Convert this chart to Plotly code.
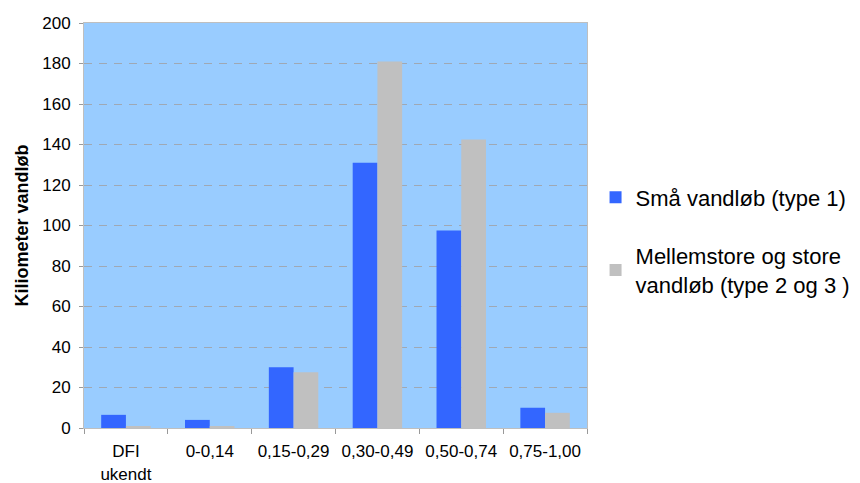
import plotly.graph_objects as go

categories = ["DFI<br>ukendt", "0-0,14", "0,15-0,29", "0,30-0,49", "0,50-0,74", "0,75-1,00"]
small_streams = [6.5, 4, 30, 131, 97.5, 10]
medium_large_streams = [1, 1, 27.5, 181, 142.5, 7.5]
series_names = ["Små vandløb (type 1)", "Mellemstore og store<br>vandløb (type 2 og 3 )"]
y_ticks = [0, 20, 40, 60, 80, 100, 120, 140, 160, 180, 200]

FONT = "Arial, Liberation Sans, sans-serif"

fig = go.Figure()
fig.add_trace(go.Bar(x=categories, y=small_streams, name=series_names[0],
                     marker=dict(color="#3366FF", line=dict(width=0)), legendgroup="a"))
fig.add_trace(go.Bar(x=categories, y=medium_large_streams, name=series_names[1],
                     marker=dict(color="#C0C0C0", line=dict(width=0)), legendgroup="b"))

fig.update_layout(
    width=860, height=483,
    margin=dict(l=76, r=276, t=15, b=63),
    paper_bgcolor="white",
    plot_bgcolor="#99CCFF",
    barmode="group",
    bargap=0.41,
    bargroupgap=0,
    font=dict(family=FONT, color="black"),
    showlegend=True,
    legend=dict(x=1.017, xanchor="left", y=0.462, yanchor="middle",
                font=dict(size=22, family=FONT, color="black"),
                tracegroupgap=27, bgcolor="rgba(0,0,0,0)"),
    xaxis=dict(
        type="category",
        automargin=False,
        tickson="boundaries",
        ticks="outside", ticklen=5, tickcolor="#999999",
        ticklabelstandoff=8,
        showline=True, linecolor="#BFBFBF", linewidth=1, mirror=True,
        showgrid=False,
        tickfont=dict(size=17, family=FONT, color="black"),
    ),
    yaxis=dict(
        range=[0, 200],
        automargin=False,
        tickvals=y_ticks,
        ticks="outside", ticklen=4, tickcolor="#999999",
        ticklabelstandoff=5,
        showline=True, linecolor="#BFBFBF", linewidth=1, mirror=True,
        showgrid=True, gridcolor="#9FA8B4", gridwidth=1, griddash="8px,7px",
        zeroline=False,
        tickfont=dict(size=17, family=FONT, color="black"),
        title=dict(text="<b>Kiliometer vandløb</b>", font=dict(size=18, family=FONT, color="black"),
                   standoff=8),
    ),
)

fig.write_html("out.html")
